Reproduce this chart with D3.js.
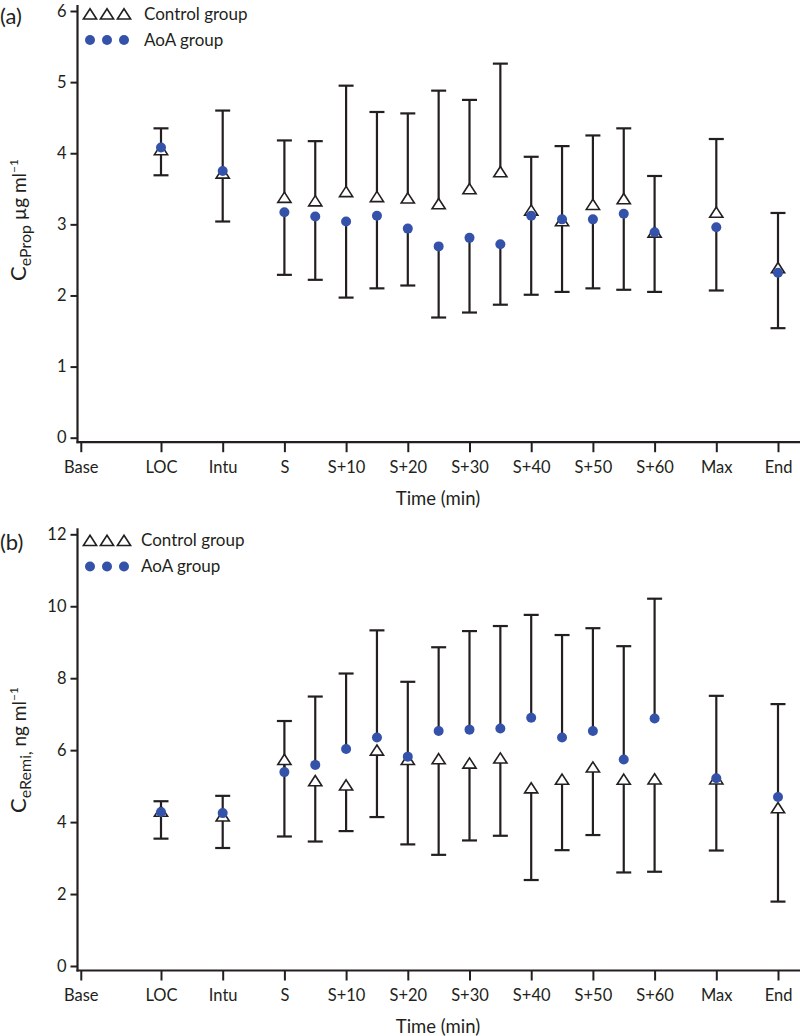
<!DOCTYPE html>
<html><head><meta charset="utf-8">
<script src="https://cdn.jsdelivr.net/npm/d3@7"></script>
<style>
body{margin:0;background:#fff}
svg text{font-family:Lato,'Open Sans',sans-serif;fill:#231f20}
</style>
</head><body>
<svg id="chart" width="800" height="1036"></svg>
<script>
// ---------- data ----------
const tickLabels = ["Base","LOC","Intu","S","S+10","S+20","S+30","S+40","S+50","S+60","Max","End"];
const tickPos    = [-1.3, 0, 1, 2, 3, 4, 5, 6, 7, 8, 9, 10];
const timepoints = ["LOC","Intu","S","S+5","S+10","S+15","S+20","S+25","S+30","S+35","S+40","S+45","S+50","S+55","S+60","Max","End"];
const timePos    = [0, 1, 2, 2.5, 3, 3.5, 4, 4.5, 5, 5.5, 6, 6.5, 7, 7.5, 8, 9, 10];

// (a) CeProp (µg/ml): control mean + upper error end, AoA mean + lower error end
const ctrlPropMean  = [4.05,3.72,3.38,3.33,3.46,3.39,3.37,3.29,3.50,3.74,3.20,3.05,3.28,3.36,2.89,3.17,2.39];
const ctrlPropUpper = [4.35,4.60,4.18,4.17,4.95,4.58,4.56,4.88,4.75,5.26,3.95,4.10,4.25,4.35,3.68,4.20,3.16];
const aoaPropMean   = [4.08,3.75,3.17,3.11,3.04,3.12,2.94,2.69,2.81,2.72,3.12,3.07,3.07,3.15,2.89,2.96,2.32];
const aoaPropLower  = [3.69,3.04,2.29,2.22,1.97,2.10,2.14,1.69,1.76,1.87,2.01,2.05,2.10,2.08,2.05,2.07,1.54];

// (b) CeRemi (ng/ml): AoA mean + upper error end, control mean + lower error end
const aoaRemiMean   = [4.28,4.25,5.39,5.59,6.03,6.35,5.82,6.53,6.57,6.60,6.90,6.35,6.53,5.74,6.88,5.22,4.70];
const aoaRemiUpper  = [4.58,4.73,6.81,7.49,8.13,9.33,7.90,8.86,9.31,9.45,9.76,9.20,9.39,8.89,10.21,7.51,7.28];
const ctrlRemiMean  = [4.30,4.17,5.74,5.15,5.03,6.00,5.74,5.76,5.64,5.78,4.95,5.19,5.53,5.19,5.20,5.20,4.40];
const ctrlRemiLower = [3.54,3.28,3.60,3.46,3.75,4.14,3.38,3.09,3.49,3.62,2.39,3.22,3.64,2.60,2.62,3.21,1.79];

const propTicks = [0,1,2,3,4,5,6];
const remiTicks = [0,2,4,6,8,10,12];
const legendLabels = ["Control group","AoA group"];

// ---------- drawing ----------
const svg = d3.select("#chart");
const BLUE = "#3452aa", INK = "#231f20";
const FONT = "Lato, 'Open Sans', sans-serif";
const triPath = "M0,-5.2L6.6,5L-6.6,5Z";

function drawPanel(o){
  const g = svg.append("g");
  const x = d3.scaleLinear().domain([0,10]).range([161,778]);
  const y = d3.scaleLinear().domain([0,o.ymax]).range([o.yBottom,o.yTop]);
  const axisX = 77.5, xAxisY = o.yBottom + 4.5;

  // panel tag
  g.append("text").attr("x",0).attr("y",o.legY+2).attr("dy","0.35em").attr("font-size",22).text(o.tag);

  // y axis
  const ya = g.append("g").attr("transform",`translate(${axisX},0)`)
    .call(d3.axisLeft(y).tickValues(o.ticks).tickFormat(d3.format("d")).tickSize(7).tickPadding(4));
  ya.select(".domain").remove();
  ya.selectAll(".tick line").attr("stroke",INK).attr("stroke-width",2);
  ya.selectAll(".tick text").attr("font-size",16.5).attr("font-family",FONT).attr("fill",INK);
  g.append("line").attr("x1",axisX).attr("x2",axisX).attr("y1",o.yTop-6).attr("y2",xAxisY+1)
    .attr("stroke",INK).attr("stroke-width",2.2);

  // x axis
  const xa = g.append("g").attr("transform",`translate(0,${xAxisY})`)
    .call(d3.axisBottom(x).tickValues(tickPos).tickFormat((d,i)=>tickLabels[i]).tickSize(10).tickPadding(9));
  xa.select(".domain").remove();
  xa.selectAll(".tick line").attr("stroke",INK).attr("stroke-width",2);
  xa.selectAll(".tick text").attr("font-size",16.5).attr("font-family",FONT).attr("fill",INK);
  g.append("line").attr("x1",axisX-1).attr("x2",800).attr("y1",xAxisY).attr("y2",xAxisY)
    .attr("stroke",INK).attr("stroke-width",2.2);

  g.append("text").attr("x",438).attr("y",xAxisY+56).attr("dy","0.35em").attr("text-anchor","middle")
    .attr("font-size",18.5).text("Time (min)");

  // y label
  const yl = g.append("text").attr("transform",`translate(26,${o.labelY}) rotate(-90)`)
    .attr("text-anchor","middle");
  yl.append("tspan").attr("font-size",22).text("C");
  yl.append("tspan").attr("font-size",16).attr("dy",5).text(o.sub);
  yl.append("tspan").attr("font-size",19).attr("dy",-5).text(o.unit);
  yl.append("tspan").attr("font-size",12).attr("dy",-8).text("\u22121");

  // error bars
  function bars(mean, end, cls){
    const eb = g.append("g").attr("class",cls).attr("stroke",INK).attr("stroke-width",2.2);
    timePos.forEach((p,i)=>{
      eb.append("line").attr("x1",x(p)).attr("x2",x(p)).attr("y1",y(mean[i])).attr("y2",y(end[i]));
      eb.append("line").attr("x1",x(p)-7.5).attr("x2",x(p)+7.5).attr("y1",y(end[i])).attr("y2",y(end[i]));
    });
  }
  bars(o.ctrlMean,o.ctrlEnd,"ctrl-bars");
  bars(o.aoaMean,o.aoaEnd,"aoa-bars");

  // markers
  g.append("g").selectAll("path").data(timePos).join("path")
    .attr("d",triPath).attr("transform",(p,i)=>`translate(${x(p)},${y(o.ctrlMean[i])})`)
    .attr("fill","#fff").attr("stroke",INK).attr("stroke-width",1.6);
  g.append("g").selectAll("circle").data(timePos).join("circle")
    .attr("cx",p=>x(p)).attr("cy",(p,i)=>y(o.aoaMean[i])).attr("r",5).attr("fill",BLUE);

  // legend
  const lg = g.append("g");
  [90,107,124].forEach(cx=>{
    lg.append("path").attr("d",triPath).attr("transform",`translate(${cx},${o.legY})`)
      .attr("fill","#fff").attr("stroke",INK).attr("stroke-width",1.6);
    lg.append("circle").attr("cx",cx).attr("cy",o.legY+26).attr("r",5).attr("fill",BLUE);
  });
  lg.append("text").attr("x",o.legX).attr("y",o.legY).attr("dy","0.35em").attr("font-size",17).text(legendLabels[0]);
  lg.append("text").attr("x",o.legX).attr("y",o.legY+26).attr("dy","0.35em").attr("font-size",17).text(legendLabels[1]);
}

drawPanel({tag:"(a)", ymax:6, yBottom:437.7, yTop:11, ticks:propTicks, labelY:220, legY:14,
  sub:"eProp", unit:" \u00b5g ml",
  ctrlMean:ctrlPropMean, ctrlEnd:ctrlPropUpper, aoaMean:aoaPropMean, aoaEnd:aoaPropLower, legX:144});
drawPanel({tag:"(b)", ymax:12, yBottom:966, yTop:534.3, ticks:remiTicks, labelY:750, legY:540.5,
  sub:"eRemi,", unit:" ng ml",
  ctrlMean:ctrlRemiMean, ctrlEnd:ctrlRemiLower, aoaMean:aoaRemiMean, aoaEnd:aoaRemiUpper, legX:141});
</script>
</body></html>
